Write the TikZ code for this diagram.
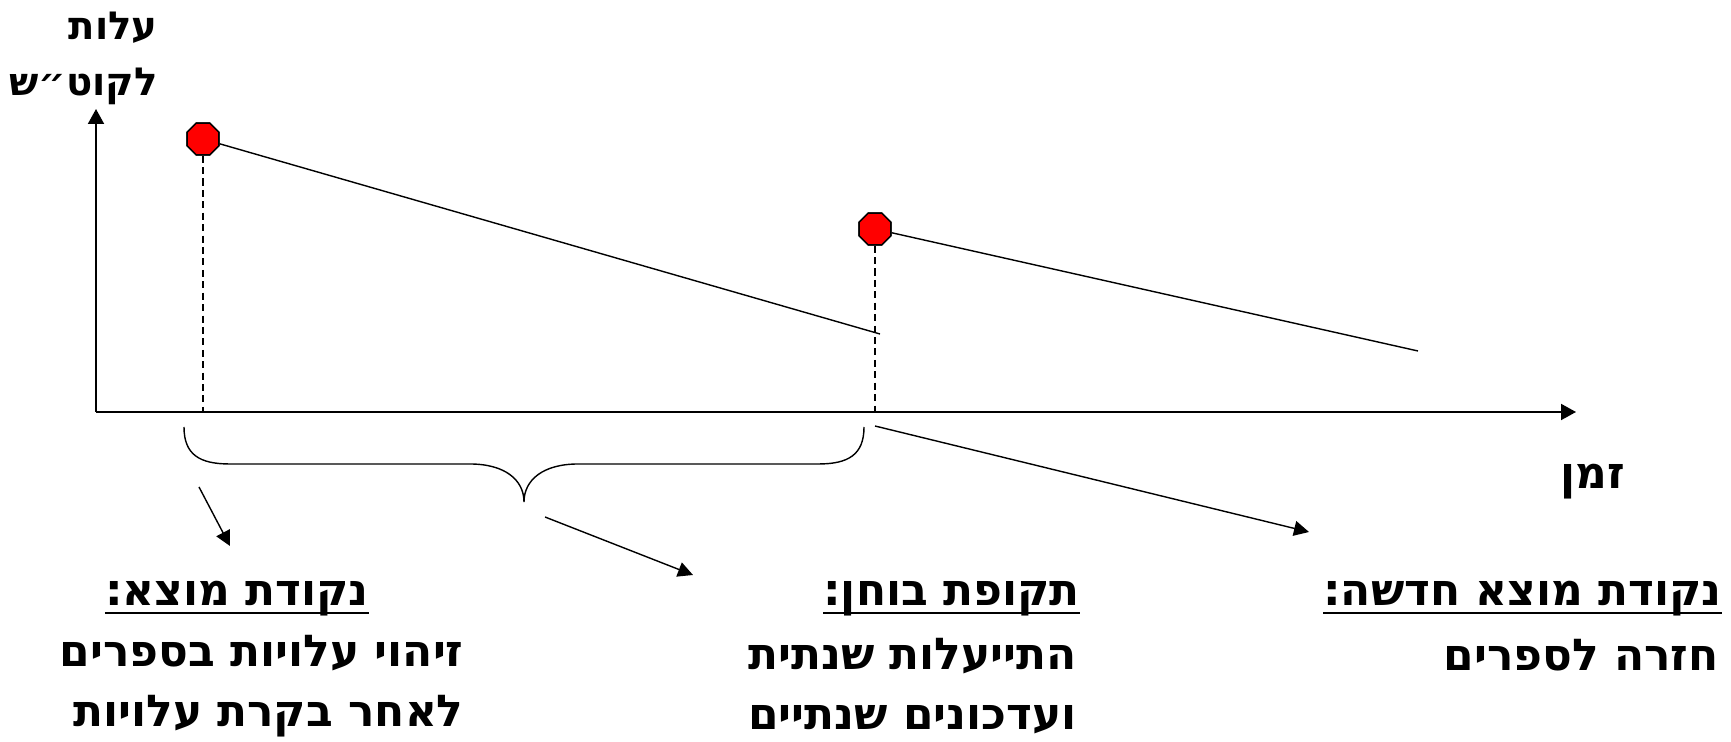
\documentclass[tikz,border=0pt]{standalone}
\usepackage{fontspec}
\newfontfamily\hebfont[Script=Hebrew]{DejaVu Sans Bold}
\TeXXeTstate=1
\usetikzlibrary{arrows.meta,shapes.geometric}
\newcommand{\heb}[1]{\beginR #1\endR}

\tikzset{
  marker/.style={regular polygon, regular polygon sides=8, minimum size=0.69cm,
    inner sep=0pt, fill=red, draw=black, line width=0.8pt},
  axisline/.style={line width=1.1pt, -{Triangle[length=0.3cm,width=0.32cm]}},
  pointer/.style={line width=0.8pt, -{Triangle[length=0.3cm,width=0.3cm]}},
  costline/.style={line width=0.8pt},
  guide/.style={line width=0.8pt, dash pattern=on 4pt off 2.5pt},
  hebtext/.style={font=\hebfont\fontsize{25}{34}\selectfont, inner sep=0pt},
  axistext/.style={font=\hebfont\fontsize{22}{28}\selectfont, inner sep=0pt},
  headrule/.style={line width=1.6pt},
}

\begin{document}
\begin{tikzpicture}[x=0.02cm, y=-0.02cm]
\useasboundingbox (0,0) rectangle (1731,742);

% === Axes ===
\coordinate (O) at (96,412);
\coordinate (ytop) at (96,109);
\coordinate (xend) at (1576,412);
\draw[axisline] (O) -- (ytop);
\draw[axisline] (O) -- (xend);

\node[axistext, anchor=east] (ylabA) at (158,28) {\heb{עלות}};
\node[axistext, anchor=east] (ylabB) at (158,86) {\heb{לקוט״ש}};
\node[hebtext] (xlab) at (1593,482) {\heb{זמן}};

% === Cost lines ===
\node[marker] (orig) at (203,139) {};
\node[marker] (neworig) at (875,229) {};
\coordinate (end1) at (880,334);
\coordinate (end2) at (1418,351);
\draw[costline] (orig) -- (end1);
\draw[costline] (neworig) -- (end2);
\draw[guide] (orig.south) -- (orig.south |- O);
\draw[guide] (neworig.south) -- (neworig.south |- O);
\node[marker] at (orig) {};
\node[marker] at (neworig) {};

% === Brace under the test period ===
\draw[costline] (184,427) .. controls (184,455) and (200,464) .. (230,464)
  -- (470,464) .. controls (505,464) and (524,480) .. (524,502)
  .. controls (524,480) and (543,464) .. (578,464)
  -- (818,464) .. controls (848,464) and (864,455) .. (864,427);

% === Pointers ===
\coordinate (p1s) at (199,487);
\coordinate (p1e) at (230,546);
\coordinate (p2s) at (545,517);
\coordinate (p2e) at (693,575);
\coordinate (p3s) at (875,426);
\coordinate (p3e) at (1309,532);
\draw[pointer] (p1s) -- (p1e);
\draw[pointer] (p2s) -- (p2e);
\draw[pointer] (p3s) -- (p3e);

% === Texts ===
\node[hebtext, anchor=base] (headA) at (237,606) {\heb{נקודת מוצא:}};
\node[hebtext, anchor=east, align=right] (bodyA) at (464,686)
  {\heb{זיהוי עלויות בספרים}\\\heb{לאחר בקרת עלויות}};

\node[hebtext, anchor=base east] (headB) at (1080,606) {\heb{תקופת בוחן:}};
\node[hebtext, anchor=east, align=right] (bodyB) at (1077,686)
  {\heb{התייעלות שנתית}\\\heb{ועדכונים שנתיים}};

\node[hebtext, anchor=base east] (headC) at (1722,606) {\heb{נקודת מוצא חדשה:}};
\node[hebtext, anchor=east] (bodyC) at (1719,655) {\heb{חזרה לספרים}};

% underlines
\foreach \h in {headA,headB,headC}
  \draw[headrule] ([yshift=-4pt]\h.base west) -- ([yshift=-4pt]\h.base east);

\end{tikzpicture}
\end{document}
